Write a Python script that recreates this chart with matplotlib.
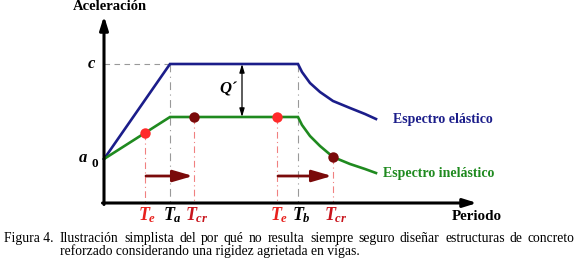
import numpy as np
import matplotlib.pyplot as plt

plt.rcParams['font.family'] = ['Liberation Serif', 'DejaVu Serif']
plt.rcParams['mathtext.fontset'] = 'custom'
plt.rcParams['mathtext.it'] = 'Liberation Serif:italic:bold'
plt.rcParams['mathtext.rm'] = 'Liberation Serif:bold'

# diagram units (origin at the corner of the axes)
a0 = 44
c = 139
T_a = 66
T_b = 194
plateau_inel = 86
T_max = 373

# descending branch
T_tail = [194, 198, 206, 216, 229, 246, 261, 272]
elastic_tail = [139, 131, 120, 111, 102, 95, 89, 84]
inelastic_tail = [86, 78, 67, 57, 46, 39, 34, 30]

T_elastic = [0, T_a] + T_tail
A_elastic = [a0, c] + elastic_tail
T_inelastic = [0, T_a] + T_tail
A_inelastic = [a0, plateau_inel] + inelastic_tail

Te_list = [41, 173]
Tcr_list = [90, 229]
T_q = 138
arrow_level = 27

caption_line1 = 'Ilustración simplista del por qué no resulta siempre seguro diseñar estructuras de concreto'
caption_line2 = 'reforzado considerando una rigidez agrietada en vigas.'

navy = '#1b1d8a'
green = '#1f8a1f'
red = '#ff2a2a'
darkred = '#7a0a0a'

fig = plt.figure(figsize=(5.8, 2.6), dpi=100)
ax = fig.add_axes([0, 0, 1, 1])
ax.set_xlim(-104, 476)
ax.set_ylim(-57, 203)
ax.axis('off')

# axes arrows
ax.annotate('', xy=(0, 187), xytext=(0, -1.5),
            arrowprops=dict(arrowstyle='-|>,head_length=0.8,head_width=0.25', lw=2.2, color='black',
                            shrinkA=0, shrinkB=0))
ax.annotate('', xy=(T_max, 0), xytext=(-1.5, 0),
            arrowprops=dict(arrowstyle='-|>,head_length=0.8,head_width=0.25', lw=2.2, color='black',
                            shrinkA=0, shrinkB=0))

# guide lines
ax.plot([0, T_a], [c, c], color='#999999', lw=0.8, ls=(0, (5, 4)))
ax.plot([T_a, T_a], [c, -2], color='#999999', lw=0.8, ls=(0, (7, 4, 1, 4)))
ax.plot([T_b, T_b], [c, -5], color='#999999', lw=0.8, ls=(0, (7, 4, 1, 4)))

A_te = np.interp(Te_list, T_inelastic, A_inelastic)
A_tcr = np.interp(Tcr_list, T_inelastic, A_inelastic)
for t, a in zip(Te_list + Tcr_list, list(A_te) + list(A_tcr)):
    ax.plot([t, t], [a, 0], color='#f08080', lw=0.8, ls=(0, (6, 3, 1, 3)))

# spectra
ax.plot(T_elastic, A_elastic, color=navy, lw=1.9, solid_joinstyle='miter')
ax.plot(T_inelastic, A_inelastic, color=green, lw=1.9, solid_joinstyle='miter')

ax.plot(Te_list, A_te, 'o', color=red, ms=7.5, mec='none')
ax.plot(Tcr_list, A_tcr, 'o', color=darkred, ms=7.5, mec='none')

# shift arrows
for t0, t1 in zip(Te_list, Tcr_list):
    ax.annotate('', xy=(t1 - 1, arrow_level), xytext=(t0 + 1, arrow_level),
                arrowprops=dict(arrowstyle='-|>,head_length=1.2,head_width=0.35', lw=2.0,
                                color=darkred, shrinkA=0, shrinkB=0))

# Q' arrow
ax.annotate('', xy=(T_q, plateau_inel), xytext=(T_q, c),
            arrowprops=dict(arrowstyle='<|-|>,head_length=0.5,head_width=0.15', lw=0.9,
                            color='black', shrinkA=0, shrinkB=0))
ax.text(T_q - 5, (c + plateau_inel) / 2 + 1, 'Q´', ha='right', va='center', fontsize=12,
        fontstyle='italic', fontweight='bold')

# axis labels
ax.text(-31, 196, 'Aceleración', ha='left', va='center', fontsize=10.5, fontweight='bold')
ax.text(-8, c, '$c$', ha='right', va='center', fontsize=12)
ax.text(-16, a0 + 1, '$a$', ha='right', va='center', fontsize=12)
ax.text(-9, a0 - 5, '0', ha='center', va='center', fontsize=9.5, fontweight='bold')
ax.text(348, -13, 'Periodo', ha='left', va='center', fontsize=10.8, fontweight='bold')

ax.text(289, 84, 'Espectro elástico', ha='left', va='center', fontsize=10,
        fontweight='bold', color=navy)
ax.text(279, 30, 'Espectro inelástico', ha='left', va='center', fontsize=10,
        fontweight='bold', color=green)

tick_y = -12
for t in Te_list:
    ax.text(t + 2, tick_y, '$T_e$', ha='center', va='center', fontsize=13, color='#e8201c')
for t in Tcr_list:
    ax.text(t + 3, tick_y, '$T_{cr}$', ha='center', va='center', fontsize=13, color='#c8141c')
ax.text(T_a + 3, tick_y, '$T_a$', ha='center', va='center', fontsize=13, color='black')
ax.text(T_b + 3, tick_y, '$T_b$', ha='center', va='center', fontsize=13, color='black')

# caption (first line justified)
cap_size = 9.8
line1_y, line2_y = -39, -52
ax.text(-100, line1_y, 'Figura 4.', ha='left', va='baseline', fontsize=cap_size)
words = caption_line1.split()
fig.canvas.draw()
renderer = fig.canvas.get_renderer()
objs = [ax.text(0, line1_y, w, ha='left', va='baseline', fontsize=cap_size) for w in words]
widths = [o.get_window_extent(renderer).width for o in objs]
left, right = -44, 471
gap = (right - left - sum(widths)) / (len(words) - 1)
x = left
for o, w in zip(objs, widths):
    o.set_x(round(x))
    x += w + gap
ax.text(left, line2_y, caption_line2, ha='left', va='baseline', fontsize=cap_size)

fig.savefig('out.png', dpi=100)
